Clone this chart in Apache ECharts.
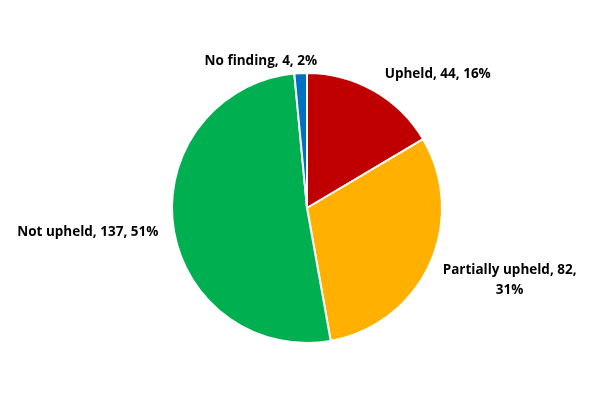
<!DOCTYPE html>
<html>
<head>
<meta charset="utf-8">
<script src="https://cdn.jsdelivr.net/npm/echarts@6/dist/echarts.min.js"></script>
<style>
  html, body { margin: 0; padding: 0; background: #fff; }
  #chart { width: 600px; height: 400px; }
</style>
</head>
<body>
<div id="chart"></div>
<script>
// slice data, clockwise from 12 o'clock
const categories = ['Upheld', 'Partially upheld', 'Not upheld', 'No finding'];
const counts = [44, 82, 137, 4];
const colors = ['#C00000', '#FFB000', '#00B050', '#0070C0'];

// nudges for the label boxes (dx, dy), relative to where echarts puts them
var labelNudge = [[0, -6], [-3, 11], [2, 4], [22, 0]];

var chart = echarts.init(document.getElementById('chart'));

var data = categories.map(function (name, i) {
  var item = { name: name, value: counts[i], itemStyle: { color: colors[i] } };
  if (name === 'Partially upheld') {
    item.label = { formatter: '{b}, {c},\n{d}%' };
  }
  return item;
});

chart.setOption({
  animation: false,
  series: [{
    type: 'pie',
    center: [307, 208],
    radius: 135,
    startAngle: 90,
    clockwise: true,
    percentPrecision: 0,
    itemStyle: { borderColor: '#fff', borderWidth: 2 },
    label: {
      show: true,
      position: 'outside',
      formatter: '{b}, {c}, {d}%',
      fontFamily: 'Open Sans',
      fontWeight: 'bold',
      fontSize: 13.5,
      color: '#000',
      lineHeight: 20
    },
    labelLine: { show: false, length: 12, length2: 0 },
    labelLayout: function (params) {
      var r = params.labelRect;
      var n = labelNudge[params.dataIndex];
      return {
        x: r.x + r.width / 2 + n[0],
        y: r.y + r.height / 2 + n[1],
        align: 'center',
        verticalAlign: 'middle'
      };
    },
    data: data
  }]
});
</script>
</body>
</html>
